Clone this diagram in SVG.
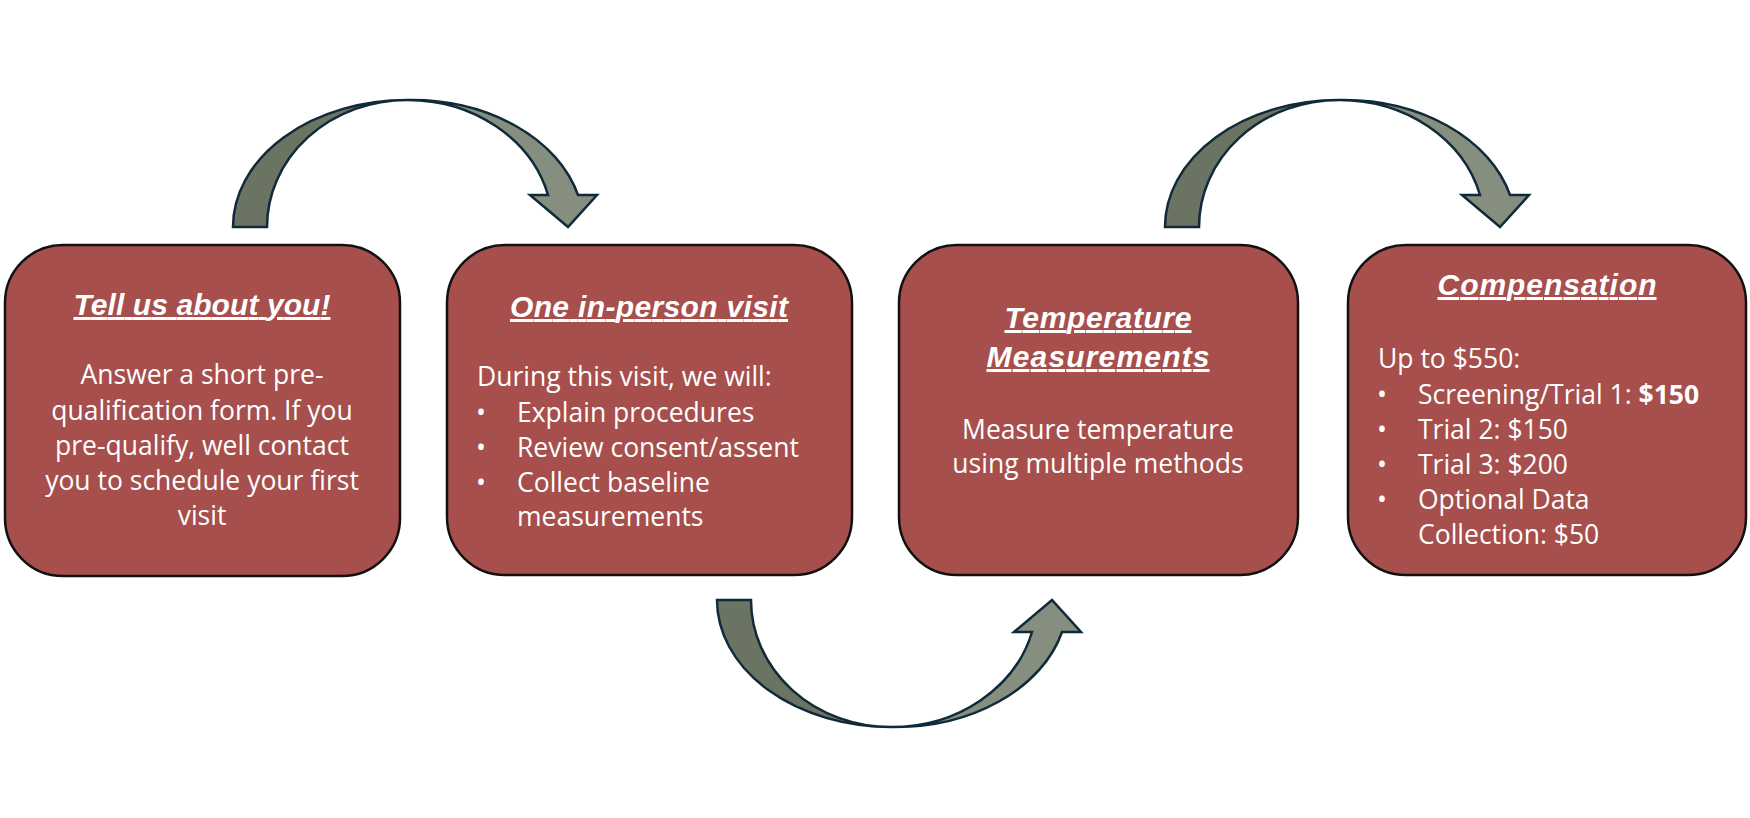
<svg xmlns="http://www.w3.org/2000/svg" xmlns:xlink="http://www.w3.org/1999/xlink" width="1750" height="818" viewBox="0 0 1750 818">
<style>
.box{fill:#a64f4c;stroke:#111;stroke-width:2.5}
.t{font-family:"Liberation Sans",Arial,sans-serif;font-weight:bold;font-style:italic;font-size:30px;fill:#fff;text-decoration:underline;text-anchor:middle}
.b{font-family:"Open Sans",sans-serif;font-size:26.5px;fill:#fff}
.c{text-anchor:middle}
.dk{fill:#6b7363;stroke:#102a3a;stroke-width:2.5;stroke-linejoin:miter}
.lt{fill:#868e80;stroke:#102a3a;stroke-width:2.5;stroke-linejoin:miter}
</style>
<defs>
<g id="curvedArrow">
<path class="dk" d="M233,227 A174,127 0 0 1 407,100 A140,127 0 0 0 267,227 Z"/>
<path class="lt" d="M407,100 A172,127 0 0 1 578,195 L597,195 L568,227 L530,195 L548,195 A145,127 0 0 0 407,100 Z"/>
</g>
</defs>
<rect width="1750" height="818" fill="#fff"/>
<g id="connectors">
<use xlink:href="#curvedArrow"/>
<use xlink:href="#curvedArrow" transform="translate(484,827) scale(1,-1)"/>
<use xlink:href="#curvedArrow" transform="translate(932,0)"/>
</g>
<g id="node1">
<rect class="box" x="5" y="245" width="395" height="331" rx="58" ry="58"/>
<text class="t" x="202" y="315" textLength="257">Tell us about you!</text>
<text class="b c" x="202" y="384">Answer a short pre-</text>
<text class="b c" x="202" y="420">qualification form. If you</text>
<text class="b c" x="202" y="455">pre-qualify, well contact</text>
<text class="b c" x="202" y="490">you to schedule your first</text>
<text class="b c" x="202" y="525">visit</text>
</g>
<g id="node2">
<rect class="box" x="447" y="245" width="405" height="330" rx="58" ry="58"/>
<text class="t" x="649" y="317" textLength="278">One in-person visit</text>
<text class="b" x="477" y="386">During this visit, we will:</text>
<text class="b c" x="481" y="422">•</text>
<text class="b" x="517" y="422">Explain procedures</text>
<text class="b c" x="481" y="457">•</text>
<text class="b" x="517" y="457">Review consent/assent</text>
<text class="b c" x="481" y="492">•</text>
<text class="b" x="517" y="492">Collect baseline</text>
<text class="b" x="517" y="526">measurements</text>
</g>
<g id="node3">
<rect class="box" x="899" y="245" width="399" height="330" rx="58" ry="58"/>
<text class="t" x="1098" y="328" textLength="187">Temperature</text>
<text class="t" x="1098" y="367" textLength="223">Measurements</text>
<text class="b c" x="1098" y="439">Measure temperature</text>
<text class="b c" x="1098" y="473">using multiple methods</text>
</g>
<g id="node4">
<rect class="box" x="1348" y="245" width="398" height="330" rx="58" ry="58"/>
<text class="t" x="1547" y="295" textLength="219">Compensation</text>
<text class="b" x="1378" y="368">Up to $550:</text>
<text class="b c" x="1382" y="404">•</text>
<text class="b" x="1418" y="404">Screening/Trial 1: <tspan font-weight="bold">$150</tspan></text>
<text class="b c" x="1382" y="439">•</text>
<text class="b" x="1418" y="439">Trial 2: $150</text>
<text class="b c" x="1382" y="474">•</text>
<text class="b" x="1418" y="474">Trial 3: $200</text>
<text class="b c" x="1382" y="509">•</text>
<text class="b" x="1418" y="509">Optional Data</text>
<text class="b" x="1418" y="544">Collection: $50</text>
</g>
</svg>
